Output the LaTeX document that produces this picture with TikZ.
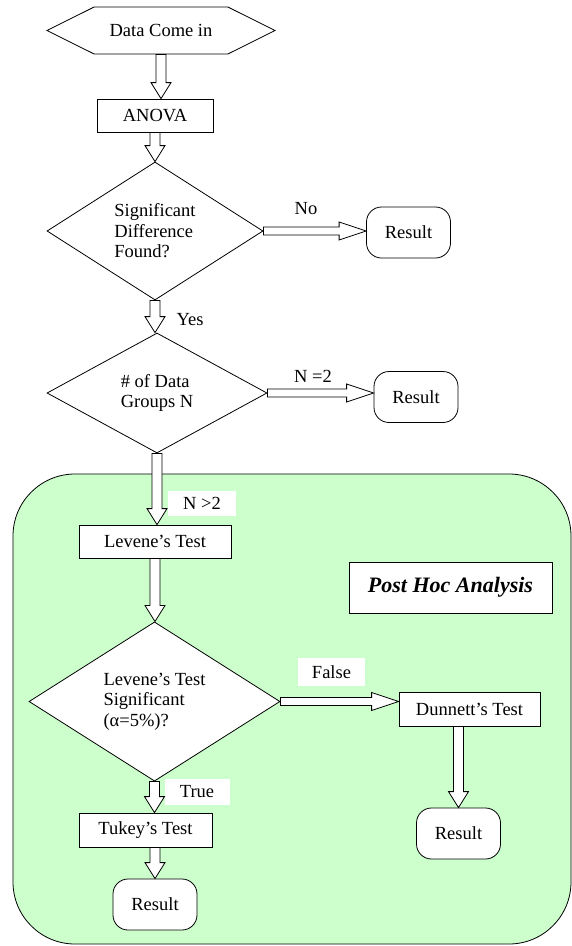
\documentclass[tikz,border=0pt]{standalone}
\usepackage{fontspec}
\setmainfont{Liberation Serif}
\usetikzlibrary{shapes.geometric,shapes.symbols,calc}

\definecolor{hocgreen}{RGB}{204,255,204}

\tikzset{
  box/.style={draw,fill=white,rectangle,inner sep=0pt},
  decision/.style={draw,fill=white,diamond,inner sep=0pt,align=left},
  result/.style={draw,fill=white,rectangle,rounded corners=15pt,inner sep=0pt,
    minimum width=84pt,minimum height=51pt},
  tag/.style={fill=white,inner sep=0pt},
  hollowdown/.style={draw,fill=white,to path={
    let \p1=(\tikztostart),\p2=(\tikztotarget) in
    (\x1-5pt,\y1) -- (\x1-5pt,\y2+16pt) -- (\x1-10pt,\y2+16pt) -- (\x1,\y2)
    -- (\x1+10pt,\y2+16pt) -- (\x1+5pt,\y2+16pt) -- (\x1+5pt,\y1) -- cycle}},
  hollowright/.style={draw,fill=white,to path={
    let \p1=(\tikztostart),\p2=(\tikztotarget) in
    (\x1,\y1+4pt) -- (\x2-27pt,\y1+4pt) -- (\x2-27pt,\y1+9pt) -- (\x2,\y1)
    -- (\x2-27pt,\y1-9pt) -- (\x2-27pt,\y1-4pt) -- (\x1,\y1-4pt) -- cycle}}
}

\begin{document}
\begin{tikzpicture}[x=1pt,y=-1pt,line width=0.8pt,
  every node/.style={font=\fontsize{18.5}{20.5}\selectfont}]

\useasboundingbox (0,0) rectangle (572,946);

% Post-hoc Bereich
\draw[fill=hocgreen,rounded corners=62pt] (13,474) rectangle (571,944);

% Ablauf oben
\node[signal,signal to=east and west,signal pointer angle=53,draw,fill=white,
  minimum width=228pt,minimum height=47pt,inner sep=0pt] (start) at (161,30.5) {Data Come in};
\node[box,minimum width=116pt,minimum height=33pt] (anova) at (155,115.5) {ANOVA};
\node[decision,minimum width=216pt,minimum height=138pt] (sig) at (155,231) {Significant\\Difference\\Found?};
\node[result] (res1) at (408.5,232.5) {Result};
\node[decision,minimum width=220pt,minimum height=120pt] (groups) at (157,393) {\# of Data\\Groups N};
\node[result] (res2) at (416,397) {Result};

% Ablauf im Post-hoc Bereich
\node[box,minimum width=152pt,minimum height=33pt] (levene) at (155,541.5) {Levene's Test};
\node[box,minimum width=203pt,minimum height=51pt,
  font=\fontsize{22}{26}\selectfont\bfseries\itshape] (posthoc) at (450.5,587.5) {Post Hoc Analysis};
\node[decision,minimum width=251pt,minimum height=151pt] (levsig) at (154.5,701.5) {Levene's Test\\Significant\\(α=5\%)?};
\node[box,minimum width=141pt,minimum height=34pt] (dunnett) at (469.5,709) {Dunnett's Test};
\node[result] (res3) at (458.5,833.5) {Result};
\node[box,minimum width=133pt,minimum height=34pt] (tukey) at (145.5,830) {Tukey's Test};
\node[result] (res4) at (155,904.5) {Result};

% Beschriftungen der Pfeile
\node (no) at (306,209) {No};
\node (yes) at (190,320) {Yes};
\node (neq) at (313,376) {N =2};
\node[tag,minimum width=68pt,minimum height=25pt] (ngt) at (202,503.5) {N >2};
\node[tag,minimum width=67pt,minimum height=28pt] (false) at (331.5,672) {False};
\node[tag,minimum width=65pt,minimum height=26pt] (true) at (197,792) {True};

% Pfeile
\draw[hollowdown] (start.south) to (anova.north);
\draw[hollowdown] (anova.south) to (sig.north);
\draw[hollowright] (sig.east) to (res1.west);
\draw[hollowdown] (sig.south) to (groups.north);
\draw[hollowright] (groups.east) to (res2.west);
\draw[hollowdown] (groups.south) to (levene.north);
\draw[hollowdown] (levene.south) to (levsig.north);
\draw[hollowright] (levsig.east) to (dunnett.west);
\draw[hollowdown] (levsig.south) to (tukey.north);
\draw[hollowdown] (res4.north |- tukey.south) to (res4.north);
\draw[hollowdown] (res3.north |- dunnett.south) to (res3.north);

\end{tikzpicture}
\end{document}
